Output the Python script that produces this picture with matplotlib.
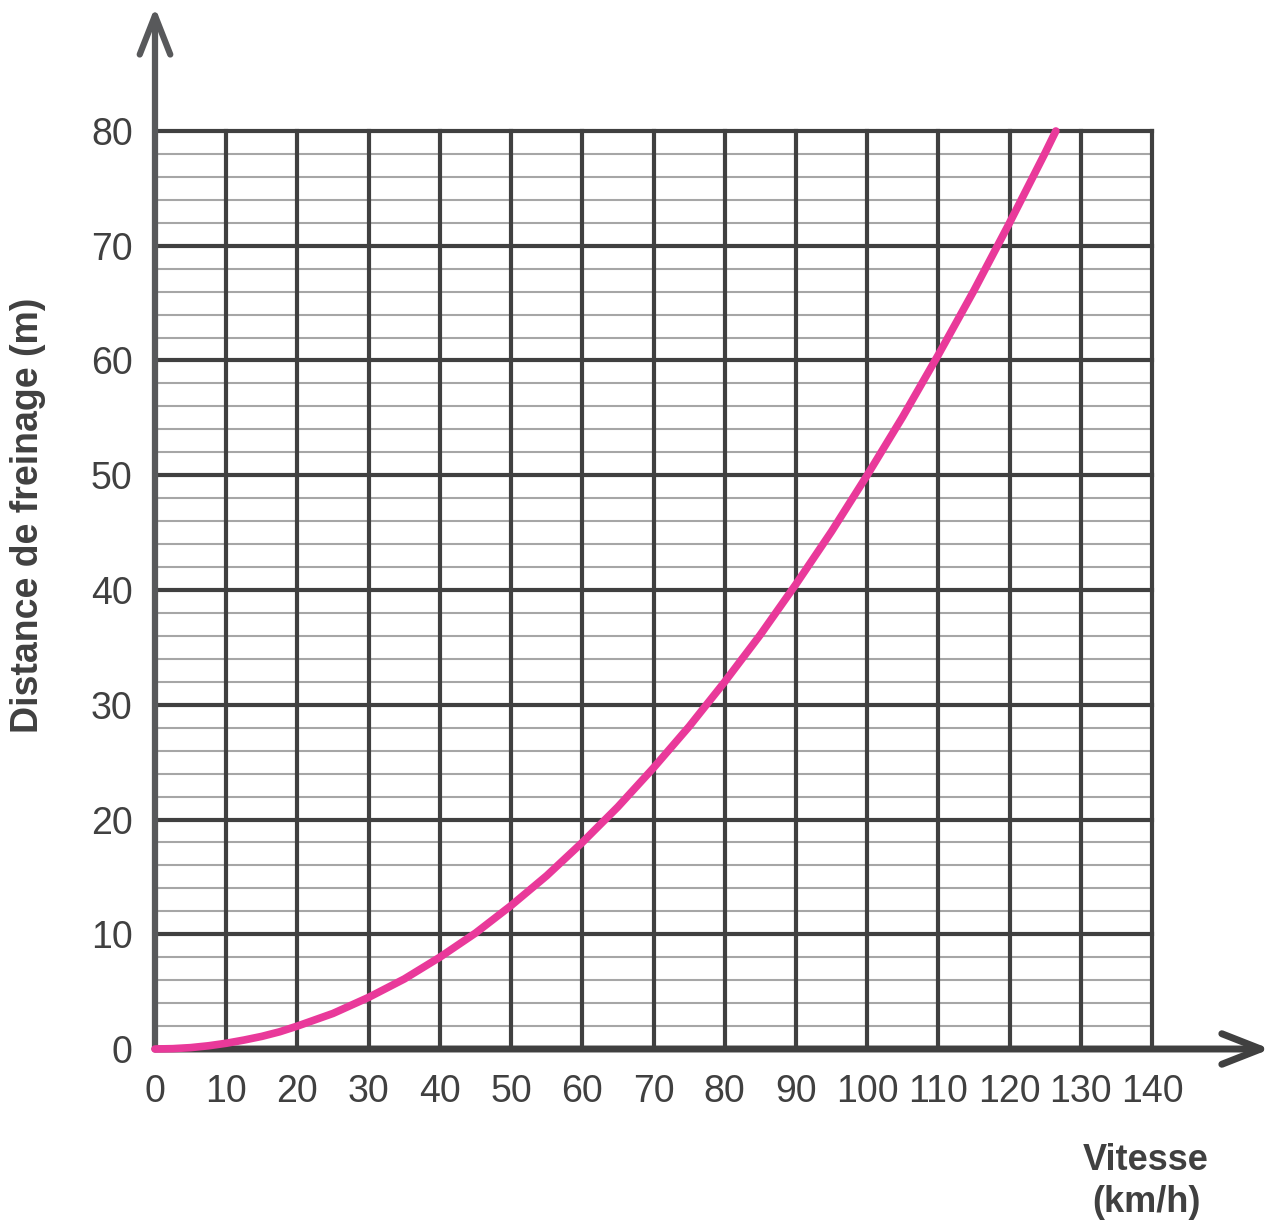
import matplotlib.pyplot as plt

# values
vitesse = [0, 2.5, 5, 7.5, 10, 12.5, 15, 17.5, 20, 25, 30, 35, 40, 45, 50, 55,
           60, 65, 70, 75, 80, 85, 90, 95, 100, 105, 110, 115, 120, 125, 126.5]
distance = [0, 0.03, 0.12, 0.28, 0.5, 0.78, 1.1, 1.5, 2, 3.1, 4.5, 6.1, 8, 10.1,
            12.5, 15.1, 18, 21.1, 24.5, 28.1, 32, 36.1, 40.5, 45.1, 50, 55.1,
            60.5, 66.1, 72, 78.1, 80]

x_ticks = list(range(0, 141, 10))
y_ticks = list(range(0, 81, 10))
y_minor = [v for v in range(0, 81, 2) if v % 10 != 0]

dark = "#404040"
axis_grey = "#58595b"
minor_grey = "#a6a6a6"
pink = "#e9399a"
tick_font = ["Liberation Sans Narrow", "Liberation Sans", "DejaVu Sans"]

fig = plt.figure(figsize=(12.79, 12.25), dpi=100)
ax = fig.add_axes([155 / 1279, 1 - 1049 / 1225, (1152 - 155) / 1279, (1049 - 131) / 1225])
ax.set_xlim(0, 140)
ax.set_ylim(0, 80)
for s in ax.spines.values():
    s.set_visible(False)

for y in y_minor:
    ax.axhline(y, color=minor_grey, lw=1.5, zorder=1)
for x in x_ticks[1:]:
    ax.axvline(x, color=dark, lw=3, zorder=2, clip_on=False)
for y in y_ticks[1:]:
    ax.axhline(y, color=dark, lw=3, zorder=2, clip_on=False)

# axes with arrows
head = "->,head_length=2.8,head_width=1.1"
ax.annotate("", xy=(156.6, 0), xytext=(0, 0), xycoords="data",
            arrowprops=dict(arrowstyle=head, color=dark, lw=5, capstyle="round",
                            joinstyle="round", shrinkA=0, shrinkB=0),
            annotation_clip=False, zorder=3)
ax.annotate("", xy=(0, 90.8), xytext=(0, 0), xycoords="data",
            arrowprops=dict(arrowstyle=head, color=axis_grey, lw=4.5, capstyle="round",
                            joinstyle="round", shrinkA=0, shrinkB=0),
            annotation_clip=False, zorder=3)

ax.plot(vitesse, distance, color=pink, lw=5.5, solid_capstyle="round",
        solid_joinstyle="round", zorder=4, clip_on=False)

ax.set_xticks(x_ticks)
ax.set_yticks(y_ticks)
ax.set_xticklabels([str(v) for v in x_ticks], family=tick_font, fontsize=27, color=dark)
ax.set_yticklabels([str(v) for v in y_ticks], family=tick_font, fontsize=27, color=dark)
ax.tick_params(axis="x", length=0, pad=18)
ax.tick_params(axis="y", length=0, pad=16)

fig.text(28 / 1279, 1 - 515 / 1225, "Distance de freinage (m)", rotation=90,
         ha="center", va="center", fontsize=27, fontweight="bold",
         family="Liberation Sans", color=dark)
fig.text(1146 / 1279, 1 - 1160 / 1225, "Vitesse", ha="center", va="center",
         fontsize=26, fontweight="bold", family="Liberation Sans", color=dark)
fig.text(1146 / 1279, 1 - 1203 / 1225, "(km/h)", ha="center", va="center",
         fontsize=26, fontweight="bold", family="Liberation Sans", color=dark)

fig.savefig("out.png", dpi=100)
